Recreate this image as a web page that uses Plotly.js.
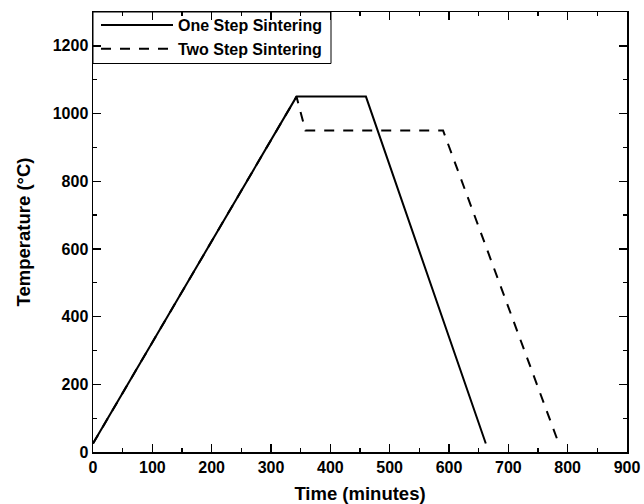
<!DOCTYPE html>
<html>
<head>
<meta charset="utf-8">
<script src="https://cdn.plot.ly/plotly-3.0.1.min.js"></script>
<style>
  html, body { margin: 0; padding: 0; background: #fff; }
  #chart { width: 644px; height: 504px; }
</style>
</head>
<body>
<div id="chart"></div>
<script>
// Data
var seriesNames = ['One Step Sintering', 'Two Step Sintering'];
var oneStepTime = [0, 343, 460, 662];
var oneStepTemp = [25, 1050, 1050, 25];
var twoStepTime = [0, 343, 358, 590, 785];
var twoStepTemp = [25, 1050, 950, 950, 25];
var xTickVals = [0, 100, 200, 300, 400, 500, 600, 700, 800, 900];
var yTickVals = [0, 200, 400, 600, 800, 1000, 1200];

var FONT = 'Liberation Sans, Arial, Helvetica, sans-serif';

var traces = [
  {
    x: oneStepTime, y: oneStepTemp, name: seriesNames[0],
    type: 'scatter', mode: 'lines',
    line: { color: '#000', width: 2, dash: 'solid' }
  },
  {
    x: twoStepTime, y: twoStepTemp, name: seriesNames[1],
    type: 'scatter', mode: 'lines',
    line: { color: '#000', width: 2, dash: '10px,9px' }
  }
];

var axisCommon = {
  showline: true, linecolor: '#000', linewidth: 1.5,
  mirror: 'ticks', ticks: 'inside', ticklen: 8, tickwidth: 1.3, tickcolor: '#000',
  showgrid: false, zeroline: false,
  tickfont: { family: FONT, size: 16, color: '#000', weight: 'bold' }
};

var W = 644, H = 504;
var mT = 8, mB = 52, mL = 93, mR = 17;
var paperW = W - mL - mR, paperH = H - mT - mB;
var plotTop = 12;               // page y of the plot's top edge
var domTop = (H - mB - plotTop) / paperH;
function fy(pageY) { return (H - mB - pageY) / paperH; }

var layout = {
  width: W, height: H,
  margin: { l: mL, r: mR, t: mT, b: mB, pad: 0 },
  paper_bgcolor: '#fff', plot_bgcolor: '#fff',
  showlegend: true,
  legend: {
    x: 3 / paperW, y: 1, xanchor: 'left', yanchor: 'top',
    bgcolor: 'rgba(0,0,0,0)', borderwidth: 0,
    font: { family: FONT, size: 16, color: '#000', weight: 'bold' },
    itemwidth: 72, tracegroupgap: 0
  },
  shapes: [
    { type: 'rect', xref: 'paper', yref: 'paper', layer: 'below',
      x0: 0, x1: (331 - mL) / paperW, y0: fy(63.5), y1: domTop,
      line: { color: '#000', width: 1 }, fillcolor: '#fff' }
  ],
  xaxis: Object.assign({}, axisCommon, {
    range: [0, 900], tickmode: 'array', tickvals: xTickVals,
    minor: { dtick: 50, ticks: 'inside', ticklen: 4, tickwidth: 1.3, tickcolor: '#000' },
    title: { text: 'Time (minutes)', font: { family: FONT, size: 18.5, color: '#000', weight: 'bold' }, standoff: 12 }
  }),
  yaxis: Object.assign({}, axisCommon, {
    domain: [0, domTop],
    range: [0, 1300], tickmode: 'array', tickvals: yTickVals,
    minor: { dtick: 100, ticks: 'inside', ticklen: 4, tickwidth: 1.3, tickcolor: '#000' },
    title: { text: 'Temperature (°C)', font: { family: FONT, size: 18.5, color: '#000', weight: 'bold' }, standoff: 17 }
  })
};

Plotly.newPlot('chart', traces, layout, { staticPlot: true, displayModeBar: false });
</script>
</body>
</html>
